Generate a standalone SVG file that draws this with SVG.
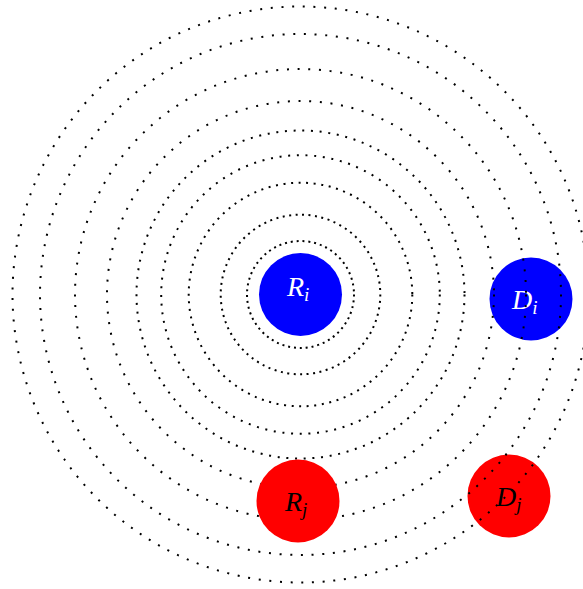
<svg xmlns="http://www.w3.org/2000/svg" width="583" height="589" viewBox="0 0 583 589">
<style>
.ring{fill:none;stroke:#000;stroke-width:2;stroke-linecap:butt}
.blue{fill:#0000ff}
.red{fill:#ff0000}
.lab{font-family:"Liberation Serif","DejaVu Serif",serif;font-style:italic;font-size:28px}
.sub{font-size:19px}
.w{fill:#fff}
.k{fill:#000}
</style>
<rect width="583" height="589" fill="#fff"/>
<g id="node-Di">
<circle class="blue" cx="531" cy="299" r="41.5"/>
<text class="lab w" x="512" y="309">D<tspan class="sub" dy="5">i</tspan></text>
</g>
<g id="node-Dj">
<circle class="red" cx="509" cy="496" r="41.5"/>
<text class="lab k" x="496" y="506">D<tspan class="sub" dy="5">j</tspan></text>
</g>
<g id="connectors">
<circle class="ring" cx="300.5" cy="294.5" r="288" stroke-dasharray="2 8.7"/>
<circle class="ring" cx="300.5" cy="294.5" r="260.5" stroke-dasharray="2 8.7"/>
<circle class="ring" cx="300.5" cy="294.5" r="225.5" stroke-dasharray="2 8.7"/>
<circle class="ring" cx="300.5" cy="294.5" r="193.5" stroke-dasharray="2 8.7"/>
<circle class="ring" cx="300.5" cy="294.5" r="164" stroke-dasharray="2 6.7"/>
<circle class="ring" cx="300.5" cy="294.5" r="139.3" stroke-dasharray="2 6.7"/>
<circle class="ring" cx="300.5" cy="294.5" r="111.8" stroke-dasharray="2 5.6"/>
<circle class="ring" cx="300.5" cy="294.5" r="79.8" stroke-dasharray="2 4.5"/>
<circle class="ring" cx="300.5" cy="294.5" r="53.5" stroke-dasharray="2 3.9"/>
</g>
<g id="node-Ri">
<circle class="blue" cx="300.5" cy="294.5" r="41.5"/>
<text class="lab w" x="287" y="296">R<tspan class="sub" dy="5">i</tspan></text>
</g>
<g id="node-Rj">
<circle class="red" cx="298" cy="501" r="41.5"/>
<text class="lab k" x="285" y="511">R<tspan class="sub" dy="5">j</tspan></text>
</g>
</svg>
